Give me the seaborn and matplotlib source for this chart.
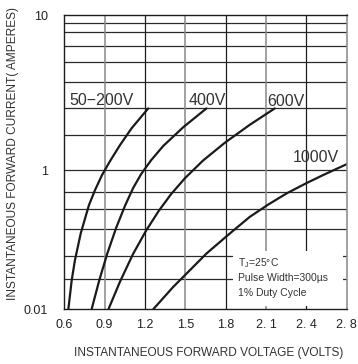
import numpy as np
import pandas as pd
import matplotlib.pyplot as plt
import seaborn as sns
from matplotlib.patches import Rectangle

# --- data ---
v_50_200 = [0.630, 0.655, 0.679, 0.722, 0.783, 0.828, 0.880, 0.939, 1.014, 1.100, 1.224]
i_50_200 = [0.010, 0.0261, 0.0507, 0.123, 0.313, 0.515, 0.847, 1.14, 1.45, 1.86, 2.50]

v_400 = [0.803, 0.860, 0.919, 0.986, 1.053, 1.112, 1.172, 1.246, 1.335, 1.484, 1.657]
i_400 = [0.010, 0.0261, 0.0627, 0.149, 0.313, 0.554, 0.882, 1.16, 1.43, 1.89, 2.50]

v_600 = [0.928, 1.014, 1.110, 1.207, 1.303, 1.392, 1.496, 1.630, 1.793, 1.979, 2.165]
i_600 = [0.010, 0.0249, 0.0617, 0.134, 0.261, 0.447, 0.762, 1.15, 1.50, 1.96, 2.50]

v_1000 = [1.261, 1.409, 1.509, 1.657, 1.831, 1.979, 2.115, 2.252, 2.400, 2.523, 2.700]
i_1000 = [0.010, 0.0209, 0.0326, 0.0633, 0.123, 0.213, 0.319, 0.462, 0.650, 0.847, 1.093]

series_names = ["50-200V", "400V", "600V", "1000V"]

x_ticks = [0.6, 0.9, 1.2, 1.5, 1.8, 2.1, 2.4, 2.7]
x_labels = ["0.6", "0.9", "1.2", "1.5", "1.8", "2. 1", "2. 4", "2. 8"]
y_ticks = [0.01, 1, 10]
y_labels = ["0.01", "1", "10"]
h_grid = [0.027, 0.058, 0.142, 0.281, 0.478, 1, 1.68, 2.5, 3.7, 4.97, 6.34, 7.73, 8.92]

df = pd.concat([
    pd.DataFrame({"V": v, "I": i, "rating": name})
    for v, i, name in zip([v_50_200, v_400, v_600, v_1000],
                          [i_50_200, i_400, i_600, i_1000], series_names)
])

# upper decade is drawn taller than the lower ones on this sheet
K = 155 / 69.5


def fwd(y):
    ly = np.log10(np.clip(y, 1e-6, None))
    return np.where(ly > 0, ly * K, ly)


def inv(f):
    f = np.clip(f, -10, 10)
    return np.where(f > 0, 10 ** (f / K), 10 ** f)


sns.set_style("white")
plt.rcParams["font.family"] = ["Liberation Sans", "DejaVu Sans"]

fig = plt.figure(figsize=(3.58, 3.64), dpi=100)
ax = fig.add_axes([64.3 / 358, 1 - 309.3 / 364, (346.7 - 64.3) / 358, (309.3 - 15) / 364])

sns.lineplot(data=df, x="V", y="I", hue="rating", units="rating", estimator=None,
             palette=["#1a1a1a"] * 4, linewidth=1.6, legend=False, ax=ax, zorder=2)

ax.set_yscale("function", functions=(fwd, inv))
ax.set_xlim(0.6, 2.7)
ax.set_ylim(0.01, 10)

# grid
for y in h_grid:
    ax.axhline(y, color="#2a2a2a", lw=0.9, zorder=0.5)
for k, x in enumerate(x_ticks[1:-1]):
    ax.axvline(x, color="#888888" if k % 2 == 0 else "#1e1e1e",
               lw=1.1 if k % 2 == 0 else 0.9, zorder=0.5)

for side in ["left", "top", "bottom"]:
    ax.spines[side].set_color("#1e1e1e")
    ax.spines[side].set_linewidth(1.0)
ax.spines["right"].set_color("#888888")
ax.spines["right"].set_linewidth(1.1)

# white box behind the notes
ax.add_patch(Rectangle((1.853, 0.0112), 2.670 - 1.853, 0.0683 - 0.0112,
                       facecolor="white", edgecolor="none", zorder=1))

ax.set_xticks(x_ticks)
ax.set_xticklabels(x_labels)
ax.set_yticks(y_ticks)
ax.set_yticklabels(y_labels)
ax.minorticks_off()
ax.tick_params(axis="both", length=0, labelsize=9, colors="#222222")
ax.tick_params(axis="x", pad=7)
ax.tick_params(axis="y", pad=12)

ax.set_xlabel("INSTANTANEOUS FORWARD VOLTAGE (VOLTS)", fontsize=8.6, color="#333333")
ax.set_ylabel("INSTANTANEOUS FORWARD CURRENT( AMPERES)", fontsize=8.6, color="#333333")
ax.xaxis.set_label_coords(0.511, -0.148)
ax.yaxis.set_label_coords(-0.182, 0.531)
ax.xaxis.label.set_va("center")
ax.yaxis.label.set_va("center")

lbl = dict(fontsize=11.5, color="#333333", ha="center", va="center", zorder=3)
ax.text(0.873, 2.83, "50\u2212200V", **lbl)
ax.text(1.66, 2.83, "400V", **lbl)
ax.text(2.246, 2.75, "600V", **lbl)
ax.text(2.469, 1.21, "1000V", **lbl)

note = dict(fontsize=7.5, color="#333333", ha="left", va="center", zorder=3)
ax.text(1.892, 0.0459, "T$_\\mathregular{J}$=25°C", **note)
ax.text(1.892, 0.0282, "Pulse Width=300\u00b5s", **note)
ax.text(1.892, 0.0174, "1% Duty Cycle", **note)

fig.savefig("out.png", dpi=100)
